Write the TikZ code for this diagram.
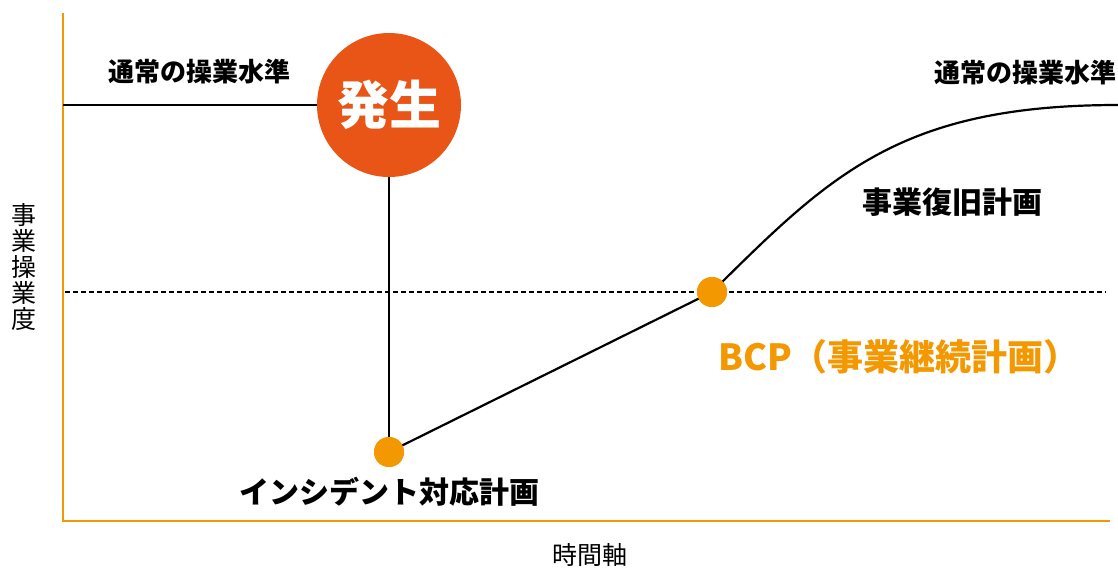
\documentclass[tikz,border=0pt]{standalone}
\usepackage{fontspec}
\setmainfont{Noto Sans CJK JP}
\usetikzlibrary{positioning}
\definecolor{hazard}{RGB}{233,85,22}
\definecolor{bcporange}{RGB}{243,152,0}

\begin{document}
\begin{tikzpicture}[
    x=1pt, y=-1pt,
    axis/.style={draw=bcporange, line width=2.4pt},
    level/.style={draw=black, line width=2.2pt},
    dot/.style={circle, fill=bcporange, minimum size=30pt, inner sep=0pt},
    lbl/.style={font=\bfseries\fontsize{26}{30}\selectfont, inner sep=0pt},
    plan/.style={font=\bfseries\fontsize{30}{36}\selectfont, inner sep=0pt},
    axlbl/.style={font=\fontsize{25}{26}\selectfont, inner sep=0pt, align=center}
  ]
  \useasboundingbox (0,0) rectangle (1118,568);

  % axes
  \coordinate (top) at (63,13);
  \coordinate (origin) at (63,521);
  \coordinate (right) at (1110,521);
  \draw[axis] (top) -- (origin) -- (right);

  % threshold
  \coordinate (thl) at (65,292);
  \coordinate (thr) at (1106,292);
  \draw[black, line width=1.8pt, dash pattern=on 4.5pt off 3.5pt] (thl) -- (thr);

  % nodes
  \node[circle, fill=hazard, minimum size=144pt, inner sep=0pt, text=white,
        font=\bfseries\fontsize{52}{60}\selectfont] (event) at (389,105) {発生};
  \node[dot] (incident) at (389,452) {};
  \node[dot] (bcp) at (712,292) {};
  \coordinate (normal) at (63,105);
  \coordinate (restored) at (1118,105);

  % lines
  \draw[level] (normal) -- (event);
  \draw[level] (event) -- (incident.center);
  \draw[level] (incident.center) -- (bcp.center);
  \draw[level] (bcp.center) .. controls (830,175) and (900,105) .. (restored);
  \node[dot] at (incident) {};
  \node[dot] at (bcp) {};

  % labels
  \node[lbl] (normalL) at (199,72) {通常の操業水準};
  \node[lbl, anchor=east] (normalR) at (1117,73) {通常の操業水準};
  \node[plan] (recovery) at (952,202) {事業復旧計画};
  \node[plan] (incidentL) at (389,492) {インシデント対応計画};
  \node[font=\bfseries\fontsize{36}{40}\selectfont, text=bcporange, inner sep=0pt,
        anchor=west] (bcpL) at (718,357) {BCP（事業継続計画）};
  \node[axlbl] (ylabel) at (24,267) {事\\業\\操\\業\\度};
  \node[axlbl] (xlabel) at (590,555) {時間軸};
\end{tikzpicture}
\end{document}
